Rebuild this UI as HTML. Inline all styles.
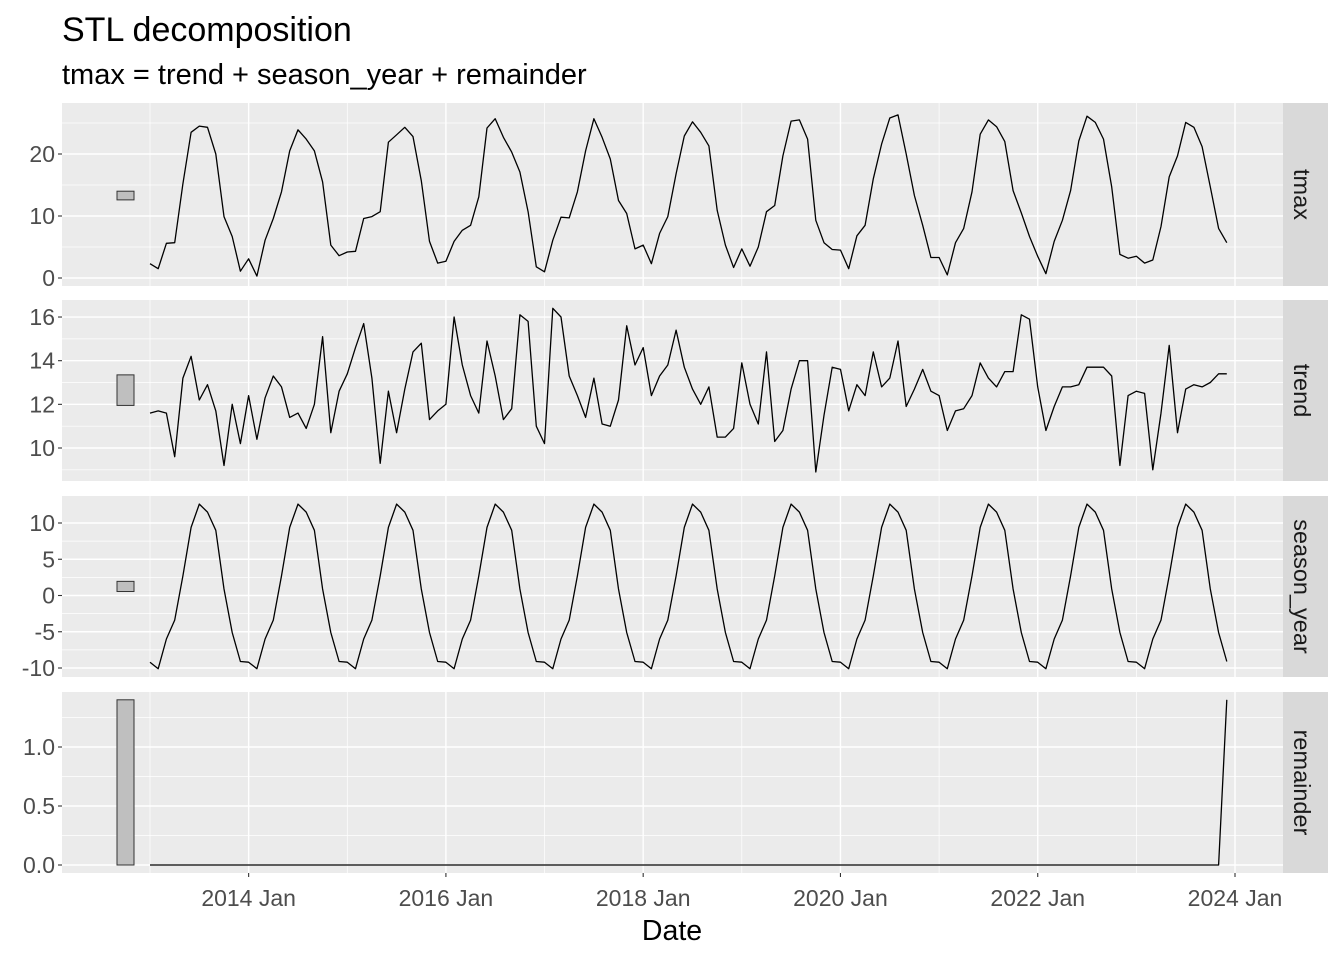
<!DOCTYPE html>
<html><head><meta charset="utf-8"><style>
body{margin:0;background:#fff}
svg{display:block;font-family:"Liberation Sans",Arial,sans-serif}
</style></head><body>
<svg id="c" width="1344" height="960">
<text x="62" y="41" font-size="34" fill="#000">STL decomposition</text>
<text x="62" y="84" font-size="29" fill="#000">tmax = trend + season_year + remainder</text>
<text x="672" y="940" font-size="28.5" text-anchor="middle" fill="#000">Date</text>
</svg>
<script>
const tmax=[2.3,1.5,5.6,5.7,15.2,23.5,24.5,24.3,20,9.9,6.7,1.1,3.1,0.3,6.1,9.6,13.9,20.5,23.9,22.4,20.5,15.5,5.3,3.6,4.2,4.3,9.6,9.9,10.7,21.9,23.1,24.3,22.8,15.7,5.9,2.4,2.7,5.9,7.7,8.5,13.1,24.2,25.7,22.7,20.3,17.1,10.7,1.8,1.0,6.1,9.8,9.7,13.9,20.5,25.7,22.7,19.2,12.5,10.4,4.7,5.3,2.3,7.2,9.9,16.8,22.9,25.2,23.5,21.3,10.9,5.3,1.7,4.7,1.9,5.0,10.7,11.7,19.7,25.3,25.5,22.4,9.3,5.7,4.6,4.5,1.5,6.8,8.5,16,21.6,25.8,26.3,20,13.3,8.5,3.3,3.3,0.5,5.7,8.0,13.9,23.2,25.5,24.4,22.0,14.1,10.5,6.7,3.5,0.7,5.9,9.3,14.1,22.1,26.1,25.1,22.4,14.7,3.8,3.2,3.5,2.4,2.9,8.3,16.3,19.7,25.1,24.3,21.2,14.7,8.0,5.7];
const trend=[11.6,11.7,11.6,9.6,13.2,14.2,12.2,12.9,11.7,9.2,12.0,10.2,12.4,10.4,12.3,13.3,12.8,11.4,11.6,10.9,12.0,15.1,10.7,12.6,13.4,14.6,15.7,13.2,9.3,12.6,10.7,12.7,14.4,14.8,11.3,11.7,12.0,16.0,13.8,12.4,11.6,14.9,13.3,11.3,11.8,16.1,15.8,11.0,10.2,16.4,16.0,13.3,12.4,11.4,13.2,11.1,11.0,12.2,15.6,13.8,14.6,12.4,13.3,13.8,15.4,13.7,12.7,12.0,12.8,10.5,10.5,10.9,13.9,12.0,11.1,14.4,10.3,10.8,12.7,14.0,14.0,8.9,11.5,13.7,13.6,11.7,12.9,12.4,14.4,12.8,13.2,14.9,11.9,12.7,13.6,12.6,12.4,10.8,11.7,11.8,12.4,13.9,13.2,12.8,13.5,13.5,16.1,15.9,12.8,10.8,11.9,12.8,12.8,12.9,13.7,13.7,13.7,13.3,9.2,12.4,12.6,12.5,9.0,11.6,14.7,10.7,12.7,12.9,12.8,13.0,13.4,13.4];
const seasonCycle=[-9.2,-10.1,-6.0,-3.4,2.7,9.4,12.6,11.5,9.0,0.9,-5.1,-9.1];
const remainderLast=1.4;
const xTickLabels=["2014 Jan","2016 Jan","2018 Jan","2020 Jan","2022 Jan","2024 Jan"];
const xTickMonths=[12,36,60,84,108,132];

const NS="http://www.w3.org/2000/svg";
const svg=document.getElementById('c');
function mk(tag,attrs,parent){const e=document.createElementNS(NS,tag);for(const k in attrs)e.setAttribute(k,attrs[k]);(parent||svg).appendChild(e);return e;}
const n=tmax.length;
const season=tmax.map((_,i)=>seasonCycle[i%12]);
const remainder=tmax.map((_,i)=>i===n-1?remainderLast:0);
const X0=62,X1=1283;
const xs=i=>150+i*(1085/132);

const panels=[
 {name:'tmax',data:tmax,top:103,bot:286,y:v=>278-6.2*v,major:[0,10,20],minor:[5,15,25],lab:v=>String(v)},
 {name:'trend',data:trend,top:300,bot:481,y:v=>448-21.83*(v-10),major:[10,12,14,16],minor:[9,11,13,15],lab:v=>String(v)},
 {name:'season_year',data:season,top:496,bot:677,y:v=>595.5-7.25*v,major:[-10,-5,0,5,10],minor:[-7.5,-2.5,2.5,7.5],lab:v=>String(v)},
 {name:'remainder',data:remainder,top:692,bot:873,y:v=>865-118*v,major:[0,0.5,1.0],minor:[0.25,0.75,1.25],lab:v=>v.toFixed(1)}
];
const rng=Math.max(...remainder)-Math.min(...remainder);
panels.forEach(p=>{
 const g=mk('g',{});
 
 
 const bg=mk('rect',{x:X0,y:p.top,width:X1-X0,height:p.bot-p.top,fill:'#ebebeb'},g);
 
 
 const inY=v=>{const y=p.y(v);return y>p.top&&y<p.bot;};
 p.minor.forEach(v=>{if(inY(v))mk('line',{x1:X0,x2:X1,y1:p.y(v),y2:p.y(v),stroke:'#fff','stroke-width':0.7},g);});
 [0,24,48,72,96,120].forEach(m=>mk('line',{x1:xs(m),x2:xs(m),y1:p.top,y2:p.bot,stroke:'#fff','stroke-width':0.7},g));
 p.major.forEach(v=>{
  const y=p.y(v);
  mk('line',{x1:X0,x2:X1,y1:y,y2:y,stroke:'#fff','stroke-width':1.4},g);
  mk('line',{x1:58,x2:62,y1:y,y2:y,stroke:'#333','stroke-width':1.1},g);
  const t=mk('text',{x:55,y:y+8,'font-size':23,'text-anchor':'end',fill:'#4d4d4d'},g);
  t.textContent=p.lab(v);
  
  
 });
 xTickMonths.forEach(m=>mk('line',{x1:xs(m),x2:xs(m),y1:p.top,y2:p.bot,stroke:'#fff','stroke-width':1.4},g));
 const dmin=Math.min(...p.data),dmax=Math.max(...p.data);
 const mid=(dmin+dmax)/2;
 const yA=p.y(mid+rng/2),yB=p.y(mid-rng/2);
 const bar=mk('rect',{x:117,y:Math.min(yA,yB),width:17,height:Math.abs(yB-yA),fill:'#bfbfbf',stroke:'#333','stroke-width':1},g);
 
 
 const pts=p.data.map((v,i)=>xs(i).toFixed(1)+','+p.y(v).toFixed(1)).join(' ');
 const line=mk('polyline',{points:pts,fill:'none',stroke:'#000','stroke-width':1.3,'stroke-linejoin':'round'},g);
 
 
 const strip=mk('rect',{x:1283,y:p.top,width:45,height:p.bot-p.top,fill:'#d9d9d9'},g);
 
 
 const cy=(p.top+p.bot)/2;
 const st=mk('text',{x:1302,y:cy,'font-size':23.5,'text-anchor':'middle',fill:'#1a1a1a',transform:`rotate(90 1302 ${cy})`,'dominant-baseline':'central'},g);
 st.textContent=p.name;
 
 
});
xTickMonths.forEach((m,k)=>{
 mk('line',{x1:xs(m),x2:xs(m),y1:873,y2:877,stroke:'#333','stroke-width':1.1});
 const t=mk('text',{x:xs(m),y:906,'font-size':23,'text-anchor':'middle',fill:'#4d4d4d'});
 t.textContent=xTickLabels[k];
 
 
});
</script>
</body></html>
